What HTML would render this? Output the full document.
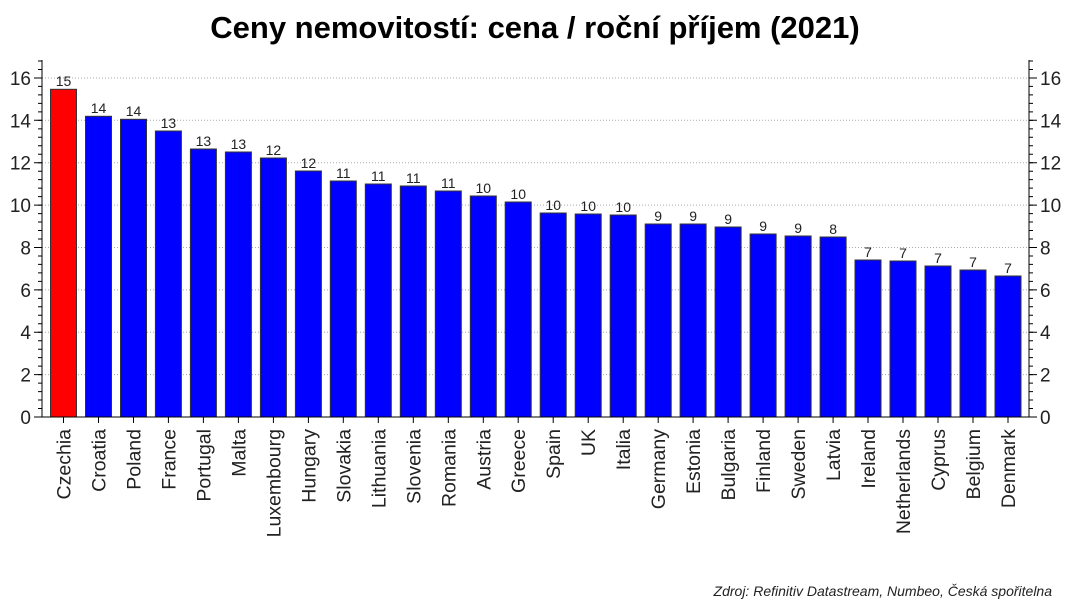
<!DOCTYPE html>
<html><head><meta charset="utf-8"><style>
html,body{margin:0;padding:0;background:#fff}
svg{display:block;font-family:"Liberation Sans",Arial,sans-serif}
</style></head><body>
<svg width="1070" height="601" viewBox="0 0 1070 601" xmlns="http://www.w3.org/2000/svg">
<text x="535" y="38" text-anchor="middle" font-size="31" font-weight="bold" fill="#000">Ceny nemovitostí: cena / roční příjem (2021)</text>
<g stroke="#aaa" stroke-dasharray="1,2">
<line x1="42" x2="1029" y1="374.6" y2="374.6"/><line x1="42" x2="1029" y1="332.2" y2="332.2"/>
<line x1="42" x2="1029" y1="289.9" y2="289.9"/><line x1="42" x2="1029" y1="247.5" y2="247.5"/>
<line x1="42" x2="1029" y1="205.1" y2="205.1"/><line x1="42" x2="1029" y1="162.7" y2="162.7"/>
<line x1="42" x2="1029" y1="120.3" y2="120.3"/><line x1="42" x2="1029" y1="78" y2="78"/>
</g>
<g stroke="#000">
<line x1="40" x2="40" y1="417.5" y2="60" stroke-width="4" stroke-dasharray="1,7.476"/>
<line x1="1031" x2="1031" y1="417.5" y2="60" stroke-width="4" stroke-dasharray="1,7.476"/>
<path d="M34 417H42M34 374.6H42M34 332.2H42M34 289.9H42M34 247.5H42M34 205.1H42M34 162.7H42M34 120.3H42M34 78H42M1029 417H1037M1029 374.6H1037M1029 332.2H1037M1029 289.9H1037M1029 247.5H1037M1029 205.1H1037M1029 162.7H1037M1029 120.3H1037M1029 78H1037"/>
</g>
<g font-size="19" fill="#222" text-anchor="end">
<text x="31" y="424">0</text><text x="31" y="381.6">2</text><text x="31" y="339.2">4</text><text x="31" y="296.9">6</text><text x="31" y="254.5">8</text><text x="31" y="212.1">10</text><text x="31" y="169.7">12</text><text x="31" y="127.3">14</text><text x="31" y="85">16</text>
</g>
<g font-size="19" fill="#222">
<text x="1040" y="424">0</text><text x="1040" y="381.6">2</text><text x="1040" y="339.2">4</text><text x="1040" y="296.9">6</text><text x="1040" y="254.5">8</text><text x="1040" y="212.1">10</text><text x="1040" y="169.7">12</text><text x="1040" y="127.3">14</text><text x="1040" y="85">16</text>
</g>
<g stroke="#333" stroke-width="1" fill="#0000ff">
<rect x="50.5" y="89.3" width="26" height="327.7" fill="#ff0000"/>
<rect x="85.5" y="116.3" width="26" height="300.7"/>
<rect x="120.5" y="119.3" width="26" height="297.7"/>
<rect x="155.4" y="131" width="26" height="286"/>
<rect x="190.4" y="149" width="26" height="268"/>
<rect x="225.4" y="152" width="26" height="265"/>
<rect x="260.4" y="158" width="26" height="259"/>
<rect x="295.4" y="171" width="26" height="246"/>
<rect x="330.3" y="181" width="26" height="236"/>
<rect x="365.3" y="184" width="26" height="233"/>
<rect x="400.3" y="186" width="26" height="231"/>
<rect x="435.3" y="191" width="26" height="226"/>
<rect x="470.3" y="196" width="26" height="221"/>
<rect x="505.2" y="202" width="26" height="215"/>
<rect x="540.2" y="213" width="26" height="204"/>
<rect x="575.2" y="214" width="26" height="203"/>
<rect x="610.2" y="215" width="26" height="202"/>
<rect x="645.2" y="224" width="26" height="193"/>
<rect x="680.1" y="224" width="26" height="193"/>
<rect x="715.1" y="227" width="26" height="190"/>
<rect x="750.1" y="234" width="26" height="183"/>
<rect x="785.1" y="236" width="26" height="181"/>
<rect x="820.1" y="237" width="26" height="180"/>
<rect x="855" y="260" width="26" height="157"/>
<rect x="890" y="261" width="26" height="156"/>
<rect x="925" y="266" width="26" height="151"/>
<rect x="960" y="270" width="26" height="147"/>
<rect x="995" y="276" width="26" height="141"/>
</g>
<g font-size="14" fill="#222" text-anchor="middle">
<text x="63.5" y="86">15</text><text x="98.5" y="113">14</text><text x="133.5" y="116">14</text><text x="168.4" y="128">13</text><text x="203.4" y="146">13</text><text x="238.4" y="149">13</text><text x="273.4" y="155">12</text><text x="308.4" y="168">12</text><text x="343.3" y="178">11</text><text x="378.3" y="181">11</text><text x="413.3" y="183">11</text><text x="448.3" y="188">11</text><text x="483.3" y="193">10</text><text x="518.2" y="199">10</text><text x="553.2" y="210">10</text><text x="588.2" y="211">10</text><text x="623.2" y="212">10</text><text x="658.2" y="221">9</text><text x="693.1" y="221">9</text><text x="728.1" y="224">9</text><text x="763.1" y="231">9</text><text x="798.1" y="233">9</text><text x="833.1" y="234">8</text><text x="868" y="257">7</text><text x="903" y="258">7</text><text x="938" y="263">7</text><text x="973" y="267">7</text><text x="1008" y="273">7</text>
</g>
<path stroke="#000" d="M63.5 417v6M98.5 417v6M133.5 417v6M168.4 417v6M203.4 417v6M238.4 417v6M273.4 417v6M308.4 417v6M343.3 417v6M378.3 417v6M413.3 417v6M448.3 417v6M483.3 417v6M518.2 417v6M553.2 417v6M588.2 417v6M623.2 417v6M658.2 417v6M693.1 417v6M728.1 417v6M763.1 417v6M798.1 417v6M833.1 417v6M868 417v6M903 417v6M938 417v6M973 417v6M1008 417v6"/>
<g font-size="19.5" fill="#222" text-anchor="end">
<text transform="translate(70.5,429) rotate(-90)">Czechia</text>
<text transform="translate(105.5,429) rotate(-90)">Croatia</text>
<text transform="translate(140.5,429) rotate(-90)">Poland</text>
<text transform="translate(175.4,429) rotate(-90)">France</text>
<text transform="translate(210.4,429) rotate(-90)">Portugal</text>
<text transform="translate(245.4,429) rotate(-90)">Malta</text>
<text transform="translate(280.4,429) rotate(-90)">Luxembourg</text>
<text transform="translate(315.4,429) rotate(-90)">Hungary</text>
<text transform="translate(350.3,429) rotate(-90)">Slovakia</text>
<text transform="translate(385.3,429) rotate(-90)">Lithuania</text>
<text transform="translate(420.3,429) rotate(-90)">Slovenia</text>
<text transform="translate(455.3,429) rotate(-90)">Romania</text>
<text transform="translate(490.3,429) rotate(-90)">Austria</text>
<text transform="translate(525.2,429) rotate(-90)">Greece</text>
<text transform="translate(560.2,429) rotate(-90)">Spain</text>
<text transform="translate(595.2,429) rotate(-90)">UK</text>
<text transform="translate(630.2,429) rotate(-90)">Italia</text>
<text transform="translate(665.2,429) rotate(-90)">Germany</text>
<text transform="translate(700.1,429) rotate(-90)">Estonia</text>
<text transform="translate(735.1,429) rotate(-90)">Bulgaria</text>
<text transform="translate(770.1,429) rotate(-90)">Finland</text>
<text transform="translate(805.1,429) rotate(-90)">Sweden</text>
<text transform="translate(840.1,429) rotate(-90)">Latvia</text>
<text transform="translate(875,429) rotate(-90)">Ireland</text>
<text transform="translate(910,429) rotate(-90)">Netherlands</text>
<text transform="translate(945,429) rotate(-90)">Cyprus</text>
<text transform="translate(980,429) rotate(-90)">Belgium</text>
<text transform="translate(1015,429) rotate(-90)">Denmark</text>
</g>
<path stroke="#000" fill="none" d="M42 60V417H1029V60"/>
<text x="1052" y="596" text-anchor="end" font-size="14" font-style="italic" fill="#222">Zdroj: Refinitiv Datastream, Numbeo, Česká spořitelna</text>
</svg>
</body></html>
